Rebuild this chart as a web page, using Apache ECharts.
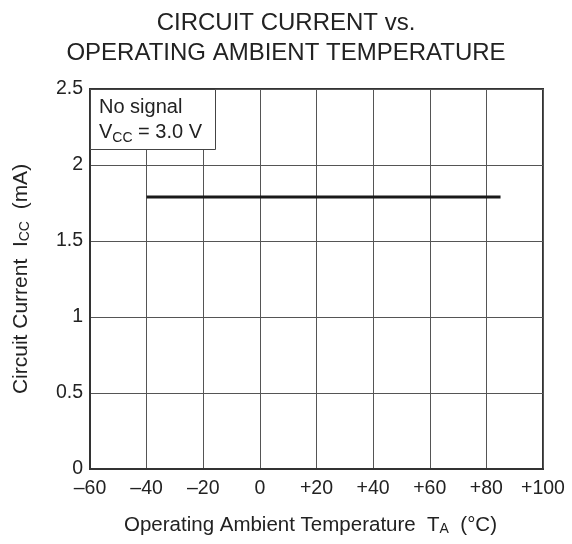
<!DOCTYPE html>
<html>
<head>
<meta charset="utf-8">
<script src="https://cdn.jsdelivr.net/npm/echarts@6/dist/echarts.min.js"></script>
<style>html,body{margin:0;padding:0;background:#fff;}#c{width:572px;height:544px;}</style>
</head>
<body>
<div id="c"></div>
<script>
// Data
var temperatures = [-40, 85];          // Operating ambient temperature TA (°C)
var circuitCurrent = [1.79, 1.79];      // Circuit current ICC (mA)
var xTicks = [-60, -40, -20, 0, 20, 40, 60, 80, 100];
var yTicks = [0, 0.5, 1, 1.5, 2, 2.5];
var titleLines = ['CIRCUIT CURRENT vs.', 'OPERATING AMBIENT TEMPERATURE'];
var conditionLines = ['No signal', 'V{sub|CC} = 3.0 V'];

var FONT = '"Liberation Sans", Arial, Helvetica, sans-serif';
var chart = echarts.init(document.getElementById('c'), null, {renderer: 'canvas'});
var seriesData = temperatures.map(function (t, i) { return [t, circuitCurrent[i]]; });
var subStyle = {fontFamily: FONT, fontSize: 14, color: '#222', verticalAlign: 'bottom'};

chart.setOption({
  animation: false,
  backgroundColor: '#fff',
  textStyle: {fontFamily: FONT, color: '#222'},
  title: [
    {
      text: titleLines.join('\n'),
      left: 'center',
      top: 3,
      textStyle: {fontFamily: FONT, fontSize: 24, fontWeight: 'normal', color: '#222', lineHeight: 30}
    },
    {
      text: conditionLines.join('\n'),
      left: 90,
      top: 89,
      padding: [6, 9, 5, 9],
      backgroundColor: '#fff',
      borderColor: '#444',
      borderWidth: 1,
      textStyle: {
        fontFamily: FONT, fontSize: 20, fontWeight: 'normal', color: '#222', lineHeight: 25,
        width: 108,
        rich: {sub: subStyle}
      }
    }
  ],
  grid: {
    left: 90, right: 29, top: 89, bottom: 75,
    show: true, borderColor: '#333', borderWidth: 2, backgroundColor: 'transparent'
  },
  xAxis: {
    type: 'value',
    min: xTicks[0], max: xTicks[xTicks.length - 1], interval: 20,
    axisLine: {show: true, onZero: false, lineStyle: {color: '#333', width: 2}},
    axisTick: {show: false},
    splitLine: {show: true, lineStyle: {color: '#555', width: 1}},
    axisLabel: {
      fontFamily: FONT, fontSize: 19.5, color: '#222', margin: 10,
      formatter: function (v) { return v > 0 ? '+' + v : (v < 0 ? '\u2013' + (-v) : '0'); }
    },
    name: 'Operating Ambient Temperature  T{sub|A}  (°C)',
    nameLocation: 'middle',
    nameGap: 46,
    nameTextStyle: {
      fontFamily: FONT, fontSize: 20.5, color: '#222',
      padding: [0, 12, 0, 0],
      rich: {sub: subStyle}
    }
  },
  yAxis: {
    type: 'value',
    min: yTicks[0], max: yTicks[yTicks.length - 1], interval: 0.5,
    axisLine: {show: true, onZero: false, lineStyle: {color: '#333', width: 2}},
    axisTick: {show: false},
    splitLine: {show: true, lineStyle: {color: '#555', width: 1}},
    axisLabel: {fontFamily: FONT, fontSize: 19.5, color: '#222', margin: 7,
      formatter: function (v) { return String(v); }},
    name: 'Circuit Current  I{sub|CC}  (mA)',
    nameLocation: 'middle',
    nameGap: 58,
    nameTextStyle: {
      fontFamily: FONT, fontSize: 21, color: '#222',
      rich: {sub: subStyle}
    }
  },
  series: [{
    type: 'line',
    data: seriesData,
    symbol: 'none',
    lineStyle: {color: '#1a1a1a', width: 3},
    z: 3
  }]
});
</script>
</body>
</html>
